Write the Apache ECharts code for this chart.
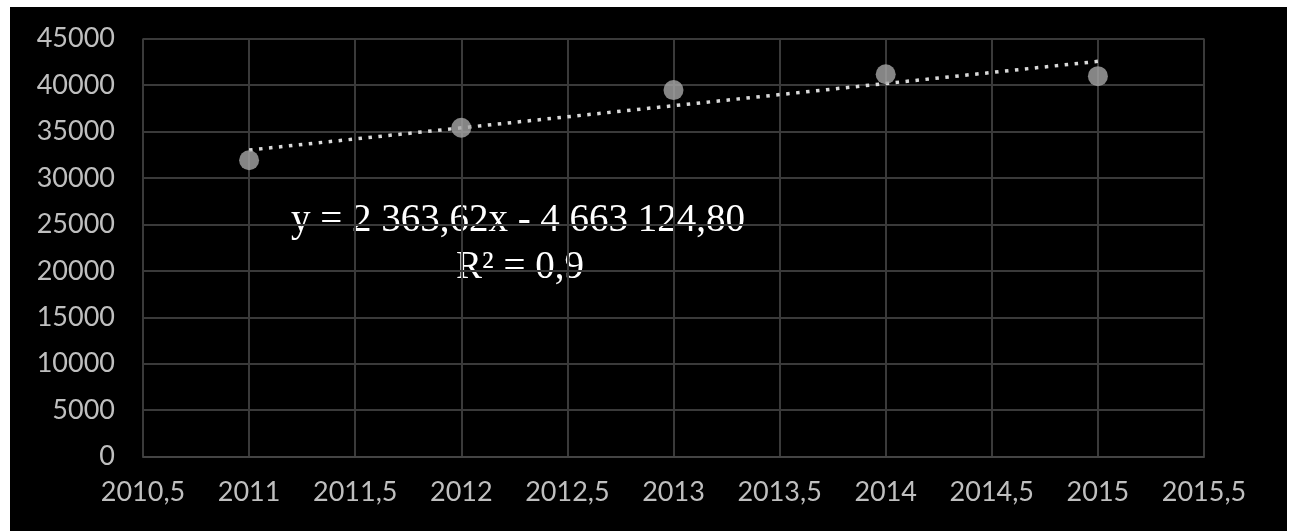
<!DOCTYPE html>
<html>
<head>
<meta charset="utf-8">
<script src="https://cdn.jsdelivr.net/npm/echarts@6/dist/echarts.min.js"></script>
<style>
  html, body { margin: 0; padding: 0; background: #ffffff; }
  #wrap { position: relative; width: 1292px; height: 531px; overflow: hidden; background: #ffffff; }
  #chart { position: absolute; left: 10px; top: 7px; width: 1277px; height: 524px; background: #000000; }
</style>
</head>
<body>
<div id="wrap"><div id="chart"></div></div>
<script>
// Observed yearly values
const years = [2011, 2012, 2013, 2014, 2015];
const values = [31900, 35400, 39450, 41150, 40950];

// Axis ticks
const xTicks = [2010.5, 2011, 2011.5, 2012, 2012.5, 2013, 2013.5, 2014, 2014.5, 2015, 2015.5];
const yTicks = [0, 5000, 10000, 15000, 20000, 25000, 30000, 35000, 40000, 45000];

// Trend annotation text
const equationLines = ['y = 2 363,62x - 4 663 124,80', 'R² = 0,9'];

// Least-squares linear fit of the observed points
function linearFit(xs, ys) {
  const n = xs.length;
  const mx = xs.reduce((a, b) => a + b, 0) / n;
  const my = ys.reduce((a, b) => a + b, 0) / n;
  let sxy = 0, sxx = 0;
  for (let i = 0; i < n; i++) {
    sxy += (xs[i] - mx) * (ys[i] - my);
    sxx += (xs[i] - mx) * (xs[i] - mx);
  }
  const slope = sxy / sxx;
  return { slope, intercept: my - slope * mx };
}
const fit = linearFit(years, values);
const trend = [years[0], years[years.length - 1]].map(x => [x, fit.slope * x + fit.intercept]);

const fmtComma = v => String(v).replace('.', ',');

const chart = echarts.init(document.getElementById('chart'), null, { renderer: 'canvas' });
chart.setOption({
  backgroundColor: '#000000',
  animation: false,
  grid: { left: 133, right: 83, top: 31.5, bottom: 74.3, containLabel: false },
  xAxis: {
    type: 'value',
    min: xTicks[0],
    max: xTicks[xTicks.length - 1],
    interval: 0.5,
    axisLine: { show: true, lineStyle: { color: '#444444', width: 2 } },
    axisTick: { show: false },
    splitLine: { show: true, lineStyle: { color: '#3a3a3a', width: 2 } },
    axisLabel: {
      color: '#bfbfbf', fontFamily: 'Lato', fontSize: 27, margin: 22,
      formatter: v => fmtComma(v)
    }
  },
  yAxis: {
    type: 'value',
    min: yTicks[0],
    max: yTicks[yTicks.length - 1],
    interval: 5000,
    axisLine: { show: false },
    axisTick: { show: false },
    splitLine: { show: true, lineStyle: { color: '#3a3a3a', width: 2 } },
    axisLabel: {
      color: '#bfbfbf', fontFamily: 'Lato', fontSize: 27, margin: 28,
      formatter: v => String(v)
    }
  },
  series: [
    {
      type: 'line',
      data: trend,
      symbol: 'none',
      z: 3,
      lineStyle: { color: '#d9d9d9', width: 3.5, type: [3.5, 6.5], cap: 'butt' }
    },
    {
      type: 'scatter',
      data: years.map((y, i) => [y, values[i]]),
      symbol: 'circle',
      symbolSize: 20,
      z: 4,
      itemStyle: { color: '#a6a6a6' }
    }
  ],
  graphic: [
    {
      type: 'text',
      x: 508, y: 214,
      style: {
        text: equationLines[0], fill: '#ffffff',
        font: '39px "Liberation Serif"', align: 'center', verticalAlign: 'middle'
      }
    },
    {
      type: 'text',
      x: 510, y: 261,
      style: {
        text: equationLines[1], fill: '#ffffff',
        font: '39px "Liberation Serif"', align: 'center', verticalAlign: 'middle'
      }
    }
  ]
});
</script>
</body>
</html>
